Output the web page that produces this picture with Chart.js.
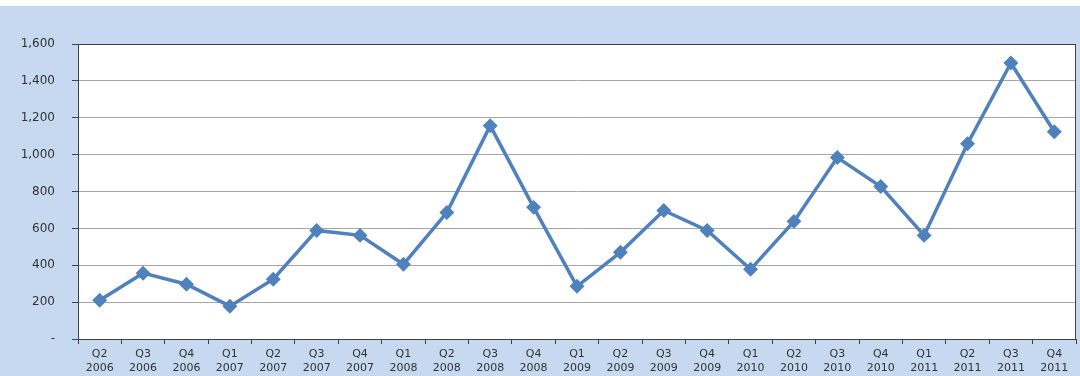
<!DOCTYPE html>
<html>
<head>
<meta charset="utf-8">
<script src="https://cdn.jsdelivr.net/npm/chart.js@4/dist/chart.umd.min.js"></script>
<style>
  html, body { margin: 0; padding: 0; background: #fff; }
  #wrap { width: 1080px; height: 376px; position: relative; }
</style>
</head>
<body>
<div id="wrap"><canvas id="linegraph"></canvas></div>
<script>
var quarters = ['Q2','Q3','Q4','Q1','Q2','Q3','Q4','Q1','Q2','Q3','Q4','Q1','Q2','Q3','Q4','Q1','Q2','Q3','Q4','Q1','Q2','Q3','Q4'];
var years = ['2006','2006','2006','2007','2007','2007','2007','2008','2008','2008','2008','2009','2009','2009','2009','2010','2010','2010','2010','2011','2011','2011','2011'];
var values = [210, 357, 297, 178, 324, 589, 562, 405, 686, 1157, 714, 286, 470, 697, 589, 378, 638, 984, 827, 562, 1059, 1497, 1124];
var yTicks = [0, 200, 400, 600, 800, 1000, 1200, 1400, 1600];

var labels = quarters.map(function(q, i) { return [q, years[i]]; });

// blue frame, white plot area and the dark border round it
var framePlugin = {
    id: 'frame',
    beforeDraw: function(chart) {
        var c = chart.ctx, a = chart.chartArea;
        c.save();
        c.fillStyle = '#ffffff';
        c.fillRect(0, 0, chart.width, chart.height);
        c.fillStyle = '#c6d9f0';
        c.fillRect(0, 6, chart.width, chart.height - 6);
        c.fillStyle = '#ffffff';
        c.fillRect(a.left, a.top, a.right - a.left, a.bottom - a.top);
        c.restore();
    },
    afterDatasetsDraw: function(chart) {
        var c = chart.ctx, a = chart.chartArea;
        c.save();
        c.strokeStyle = '#404040';
        c.lineWidth = 1;
        c.strokeRect(a.left + 0.5, a.top + 0.5, a.right - a.left - 1, a.bottom - a.top);
        c.restore();
    }
};

var ctx = document.getElementById('linegraph').getContext('2d');
window.myLine = new Chart(ctx, {
    type: 'line',
    data: {
        labels: labels,
        datasets: [{
            data: values,
            borderColor: '#4f81bd',
            backgroundColor: '#4f81bd',
            borderWidth: 3.5,
            pointStyle: 'rectRot',
            pointRadius: 5,
            pointHoverRadius: 5,
            tension: 0,
            clip: false
        }]
    },
    options: {
        responsive: true,
        maintainAspectRatio: false,
        animation: false,
        layout: { autoPadding: false, padding: { top: 44, right: 4, bottom: 0, left: 0 } },
        plugins: {
            legend: { display: false },
            tooltip: { enabled: false }
        },
        scales: {
            x: {
                offset: true,
                afterFit: function(scale) { scale.height = 37; },
                grid: {
                    offset: true,
                    drawOnChartArea: false,
                    drawTicks: true,
                    tickLength: 5,
                    color: '#404040'
                },
                border: { color: '#404040' },
                ticks: {
                    color: '#333333',
                    font: { family: 'DejaVu Sans', size: 11, lineHeight: 1.28 },
                    maxRotation: 0,
                    autoSkip: false,
                    padding: 3
                }
            },
            y: {
                min: 0,
                max: 1600,
                afterFit: function(scale) { scale.width = 78; },
                afterBuildTicks: function(scale) {
                    scale.ticks = yTicks.map(function(v) { return { value: v }; });
                },
                grid: {
                    color: '#a6a6a6',
                    tickColor: '#404040',
                    tickLength: 6
                },
                border: { color: '#404040' },
                ticks: {
                    color: '#333333',
                    font: { family: 'DejaVu Sans', size: 12 },
                    padding: 17,
                    callback: function(v) { return v === 0 ? '-' : v.toLocaleString('en-US'); }
                }
            }
        }
    },
    plugins: [framePlugin]
});
</script>
</body>
</html>
